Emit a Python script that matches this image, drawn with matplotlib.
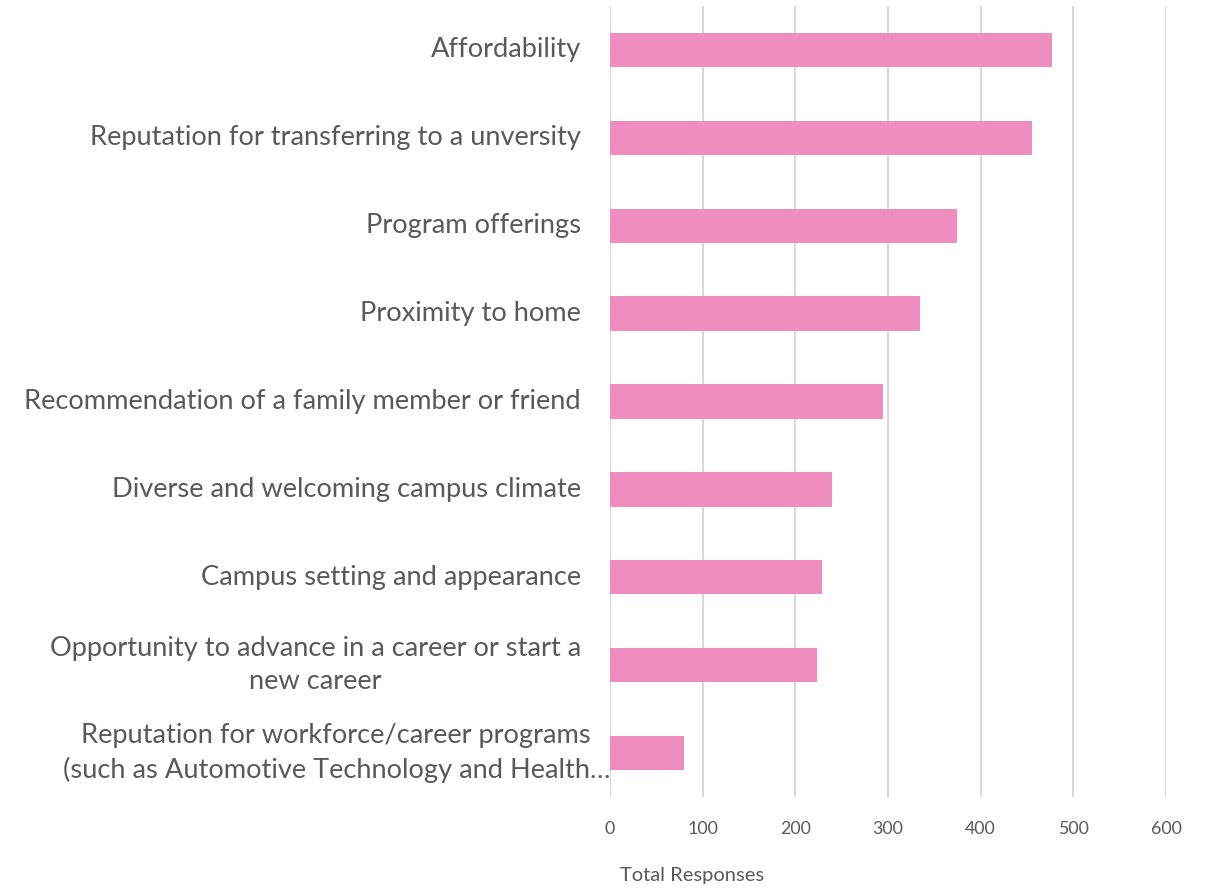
import matplotlib
matplotlib.use("Agg")
import matplotlib.pyplot as plt

categories = [
    "Affordability",
    "Reputation for transferring to a unversity",
    "Program offerings",
    "Proximity to home",
    "Recommendation of a family member or friend",
    "Diverse and welcoming campus climate",
    "Campus setting and appearance",
    "Opportunity to advance in a career or start a\nnew career",
    "Reputation for workforce/career programs\n(such as Automotive Technology and Health\u2026",
]
values = [477, 455, 374, 334, 295, 240, 229, 223, 80]
xticks = [0, 100, 200, 300, 400, 500, 600]
xlabel = "Total Responses"

W, H = 1211, 889
fig = plt.figure(figsize=(W / 100, H / 100), dpi=100)
left, right, top, bottom = 610, 1166, 6, 797
ax = fig.add_axes([left / W, 1 - bottom / H, (right - left) / W, (bottom - top) / H])

grey = "#595959"
font = "Lato"
n = len(categories)
ypos = list(range(n))[::-1]
ax.barh(ypos, values, height=0.39, color="#EF8DC1", zorder=3)
ax.set_xlim(0, 600)
ax.set_ylim(-0.5, n - 0.5)
ax.set_xticks(xticks)
ax.set_xticklabels([str(t) for t in xticks], fontsize=12.8, color=grey, family=font)
ax.tick_params(axis="x", length=0, pad=17)
ax.set_yticks([])
ax.grid(axis="x", color="#D9D9D9", linewidth=1.5, zorder=0)
for s in ax.spines.values():
    s.set_visible(False)

tr = ax.get_yaxis_transform()
off = -29 / (right - left)
for i, (cat, y) in enumerate(zip(categories, ypos)):
    x = 0.0 if i == n - 1 else off
    ax.text(x, y, cat, transform=tr, ha="right", va="center", multialignment="center",
            fontsize=19.6, color=grey, family=font, linespacing=1.42)

fig.text(692 / W, 1 - 875 / H, xlabel, ha="center", va="center", fontsize=14.5,
         color=grey, family=font)

fig.savefig("out.png", dpi=100, facecolor="white")
